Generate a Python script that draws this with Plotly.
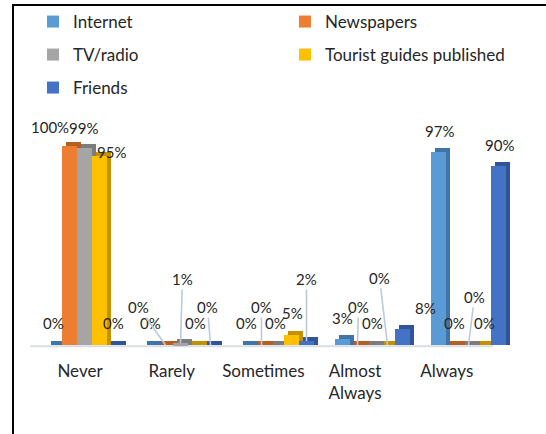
import plotly.graph_objects as go

# ---- data -------------------------------------------------------------
categories = ["Never", "Rarely", "Sometimes", "Almost<br>Always", "Always"]
series_names = ["Internet", "Newspapers", "TV/radio", "Tourist guides published", "Friends"]
internet = [0, 0, 0, 3, 97]
newspapers = [100, 0, 0, 0, 0]
tv_radio = [99, 1, 0, 0, 0]
tourist_guides = [95, 0, 5, 0, 0]
friends = [0, 0, 2, 8, 90]
series_values = [internet, newspapers, tv_radio, tourist_guides, friends]

# ---- styling ----------------------------------------------------------
front_colors = ["#5b9bd5", "#ed7d31", "#a5a5a5", "#ffc000", "#4472c4"]
side_colors = ["#3f74a6", "#b65d22", "#7c7c7c", "#c29200", "#2f5597"]
# legend entry positions (left edge px, row centre px): two columns, three rows
legend_pos = [(33, 22), (285, 22), (33, 55), (285, 55), (33, 88)]
FONT = "Lato"
TEXT_COLOR = "#262626"
LEADER_COLOR = "#bccadb"

W, H = 546, 434
ML, MR, MT, MB = 30, 26, 109, 86
PLOT_W = W - ML - MR
PLOT_H = H - MT - MB

# bar axis: group spacing and first group centre (pixels)
GROUP_PX, GROUP0_PX = 96.0, 84.5
BAR_PX = 15.0
bar_w = BAR_PX / GROUP_PX
depth_dx = 4.0 / GROUP_PX          # extrusion to the right (axis units)
depth_dy = 2.0                     # extrusion upward (value units)

# category label axis
LABEL_SPACING, LABEL0_PX = 91.7, 80.0

Y_RANGE = [-1.5, 118.5]


def xpaper(px):
    return (px - ML) / PLOT_W


def ypaper(py):
    return (H - MB - py) / PLOT_H


# per-label placement: (dx, dy) in pixels from the bar top, and whether a leader line is drawn
label_style = [
    # Never
    [(-1, -22, False), (-20, -19, False), (-1, -20, False), (12, -4, False), (-1, -22, False)],
    # Rarely
    [(0, -22, False), (-27, -38, True), (2, -64, True), (0, -22, False), (-3, -38, True)],
    # Sometimes
    [(0, -22, False), (0, -38, True), (-1, -22, False), (1, -22, False), (0, -62, True)],
    # Almost Always
    [(0, -21, False), (1, -38, True), (0, -22, False), (-8, -67, True), (23, -21, False)],
    # Always
    [(1, -21, False), (1, -22, False), (6, -48, True), (1, -22, False), (1, -21, False)],
]

fig = go.Figure()

# extruded side/top faces, drawn first so the front faces sit on top
for i, vals in enumerate(series_values):
    offset = (i - 2) * bar_w
    fig.add_trace(go.Bar(
        x=[k + offset + depth_dx for k in range(len(categories))],
        y=[v + depth_dy for v in vals],
        base=0,
        width=bar_w,
        marker=dict(color=side_colors[i], line=dict(width=0)),
        showlegend=False,
        hoverinfo="skip",
    ))

# front faces, each series with its own legend box
legend_layouts = {}
for i, vals in enumerate(series_values):
    offset = (i - 2) * bar_w
    lid = "legend" if i == 0 else f"legend{i + 1}"
    fig.add_trace(go.Bar(
        x=[k + offset for k in range(len(categories))],
        y=vals,
        width=bar_w,
        name=series_names[i],
        marker=dict(color=front_colors[i], line=dict(width=0)),
        legend=lid,
        hoverinfo="skip",
    ))
    lx, ly = legend_pos[i]
    legend_layouts[lid] = dict(
        x=xpaper(lx), y=ypaper(ly), xanchor="left", yanchor="middle",
        orientation="h", bgcolor="rgba(0,0,0,0)",
        font=dict(family=FONT, size=17, color=TEXT_COLOR),
        itemclick=False, itemdoubleclick=False,
    )

# invisible trace carrying the category axis
fig.add_trace(go.Scatter(
    x=list(range(len(categories))), y=[0] * len(categories),
    xaxis="x2", mode="markers", marker=dict(opacity=0),
    showlegend=False, hoverinfo="skip",
))

# value labels
annotations = []
for k in range(len(categories)):
    for i, vals in enumerate(series_values):
        v = vals[k]
        dx, dy, leader = label_style[k][i]
        xpos = k + (i - 2) * bar_w
        common = dict(
            x=xpos, y=v, xref="x", yref="y",
            text=f"{v}%",
            font=dict(family=FONT, size=15, color=TEXT_COLOR),
            xanchor="center", yanchor="middle",
        )
        if leader:
            annotations.append(dict(
                **common, showarrow=True, arrowhead=0, arrowwidth=1.6,
                arrowcolor=LEADER_COLOR, ax=dx, ay=dy, standoff=0,
            ))
        else:
            annotations.append(dict(**common, showarrow=False, xshift=dx, yshift=-dy))

shapes = [
    # floor line
    dict(type="line", xref="paper", yref="y", x0=xpaper(30), x1=xpaper(493),
         y0=-0.6, y1=-0.6, line=dict(color="#d9dee6", width=2), layer="below"),
    # frame edges
    dict(type="line", xref="paper", yref="paper", x0=xpaper(13), x1=xpaper(13),
         y0=ypaper(5), y1=ypaper(H + 2), line=dict(color="black", width=2)),
    dict(type="line", xref="paper", yref="paper", x0=xpaper(12), x1=xpaper(W + 2),
         y0=ypaper(5), y1=ypaper(5), line=dict(color="black", width=2)),
]

fig.update_layout(
    width=W, height=H,
    margin=dict(l=ML, r=MR, t=MT, b=MB, autoexpand=False),
    paper_bgcolor="white", plot_bgcolor="white",
    barmode="overlay",
    bargap=0,
    showlegend=True,
    font=dict(family=FONT, color=TEXT_COLOR),
    xaxis=dict(
        range=[(ML - GROUP0_PX) / GROUP_PX, (W - MR - GROUP0_PX) / GROUP_PX],
        showgrid=False, zeroline=False, showticklabels=False, showline=False,
        fixedrange=True,
    ),
    xaxis2=dict(
        overlaying="x", anchor="y", side="bottom",
        range=[(ML - LABEL0_PX) / LABEL_SPACING, (W - MR - LABEL0_PX) / LABEL_SPACING],
        tickmode="array", tickvals=list(range(len(categories))), ticktext=categories,
        ticks="", showgrid=False, zeroline=False, showline=False,
        tickfont=dict(family=FONT, size=17, color=TEXT_COLOR),
        ticklabelstandoff=11,
        fixedrange=True,
    ),
    yaxis=dict(range=Y_RANGE, visible=False, showgrid=False, zeroline=False, fixedrange=True),
    annotations=annotations,
    shapes=shapes,
    **legend_layouts,
)

fig.write_html("out.html")
